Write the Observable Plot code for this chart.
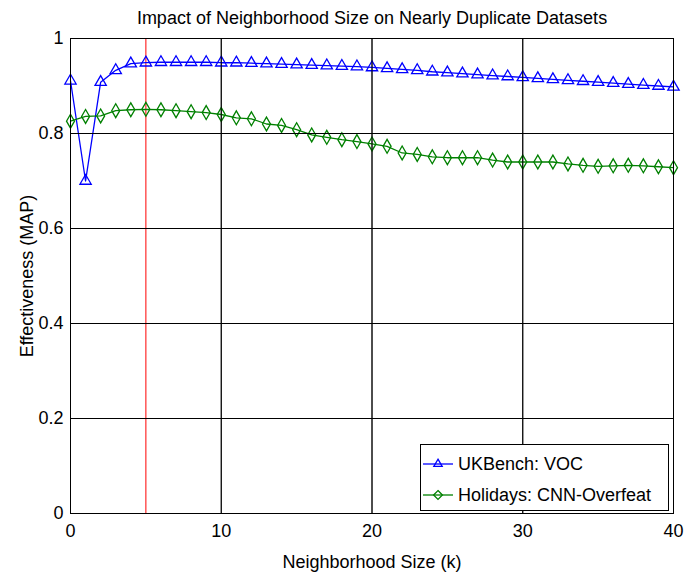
<!DOCTYPE html>
<html>
<head>
<meta charset="utf-8">
<script src="https://cdn.jsdelivr.net/npm/d3@7"></script>
<script src="https://cdn.jsdelivr.net/npm/@observablehq/plot@0.6"></script>
<style>
  body { margin: 0; background: #fff; }
  #wrap { position: relative; width: 697px; height: 573px; font-family: "Liberation Sans", Arial, sans-serif; }
  #legend {
    position: absolute; left: 420px; top: 444px; width: 249px; height: 67px;
    border: 1px solid #000; background: #fff; box-sizing: border-box;
    font-size: 18px; color: #000;
  }
  .entry { position: absolute; left: 0; height: 24px; display: flex; align-items: center; white-space: nowrap; }
  .entry svg { margin-right: 3px; }
</style>
</head>
<body>
<div id="wrap"></div>
<script>
// Neighborhood size k = 0..40
const kValues = d3.range(0, 41);

// UKBench: VOC (MAP)
const ukbenchVOC = [
  0.911, 0.700, 0.908, 0.933, 0.947, 0.949, 0.950, 0.950, 0.950, 0.950,
  0.949, 0.949, 0.948, 0.947, 0.946, 0.945, 0.944, 0.943, 0.942, 0.941,
  0.939, 0.937, 0.935, 0.933, 0.930, 0.928, 0.926, 0.924, 0.922, 0.920,
  0.918, 0.916, 0.914, 0.912, 0.910, 0.908, 0.906, 0.904, 0.902, 0.900,
  0.898
];

// Holidays: CNN-Overfeat (MAP)
const holidaysCNN = [
  0.826, 0.836, 0.837, 0.848, 0.850, 0.851, 0.850, 0.848, 0.846, 0.844,
  0.840, 0.833, 0.831, 0.820, 0.817, 0.808, 0.797, 0.792, 0.787, 0.783,
  0.778, 0.773, 0.759, 0.756, 0.751, 0.749, 0.749, 0.749, 0.744, 0.740,
  0.740, 0.740, 0.740, 0.736, 0.733, 0.731, 0.732, 0.733, 0.732, 0.730,
  0.728
];

const seriesNames = ["UKBench: VOC", "Holidays: CNN-Overfeat"];
const seriesColors = ["#0000ff", "#008000"];
const seriesSymbols = ["triangle", "diamond"];

const xTicks = [0, 10, 20, 30, 40];
const yTicks = [0, 0.2, 0.4, 0.6, 0.8, 1];
const selectedK = [5];

const titleText = "Impact of Neighborhood Size on Nearly Duplicate Datasets";

const rows = [];
kValues.forEach((k, i) => {
  rows.push({k, map: ukbenchVOC[i], series: seriesNames[0]});
  rows.push({k, map: holidaysCNN[i], series: seriesNames[1]});
});

const chart = Plot.plot({
  width: 697,
  height: 573,
  marginLeft: 70,
  marginRight: 24,
  marginTop: 38,
  marginBottom: 60,
  style: {fontFamily: "'Liberation Sans', Arial, sans-serif", fontSize: "18px", background: "#fff", color: "#000"},
  x: {domain: [0, 40]},
  y: {domain: [0, 1]},
  color: {domain: seriesNames, range: seriesColors},
  symbol: {domain: seriesNames, range: seriesSymbols},
  marks: [
    Plot.gridX(xTicks.slice(1, -1), {stroke: "#333", strokeOpacity: 1, strokeWidth: 1}),
    Plot.gridY(yTicks.slice(1, -1), {stroke: "#333", strokeOpacity: 1, strokeWidth: 1}),
    Plot.ruleX(selectedK, {stroke: "#ff0000", strokeWidth: 1}),
    Plot.line(rows, {x: "k", y: "map", z: "series", stroke: "series", strokeWidth: 1.3}),
    Plot.dot(rows, {x: "k", y: "map", stroke: "series", symbol: "series", r: 4.2, strokeWidth: 1.3, fill: "none"}),
    Plot.frame({stroke: "#000", strokeWidth: 1}),
    Plot.axisX({ticks: xTicks, tickSize: 0, tickPadding: 11, tickFormat: d => String(d),
      label: "Neighborhood Size (k)", labelAnchor: "center", labelArrow: "none", labelOffset: 54}),
    Plot.axisY({ticks: yTicks, tickSize: 0, tickPadding: 7, tickFormat: d => String(+d.toFixed(1)),
      label: "Effectiveness (MAP)", labelAnchor: "center", labelArrow: "none", labelOffset: 50}),
    Plot.tickX(xTicks, {x: d => d, y1: 0, y2: 0.013, stroke: "#000"}),
    Plot.tickY(yTicks, {y: d => d, x1: 0, x2: 0.4, stroke: "#000"}),
    Plot.text([titleText], {frameAnchor: "top", lineAnchor: "middle", dy: -20, fontSize: 18, text: d => d})
  ]
});

const wrap = document.getElementById("wrap");
wrap.appendChild(chart);

// Legend box in the lower right of the axes
const legend = document.createElement("div");
legend.id = "legend";
seriesNames.forEach((name, i) => {
  const e = document.createElement("div");
  e.className = "entry";
  e.style.top = (7 + i * 31) + "px";
  const sym = d3.symbol(seriesSymbols[i] === "triangle" ? d3.symbolTriangle2 : d3.symbolDiamond2, 50)();
  e.innerHTML = `<svg width="34" height="20"><line x1="2" x2="32" y1="10" y2="10" stroke="${seriesColors[i]}" stroke-width="1.3"/>` +
    `<path d="${sym}" transform="translate(17,10)" fill="none" stroke="${seriesColors[i]}" stroke-width="1.3"/></svg><span>${name}</span>`;
  legend.appendChild(e);
});
wrap.appendChild(legend);
</script>
</body>
</html>
